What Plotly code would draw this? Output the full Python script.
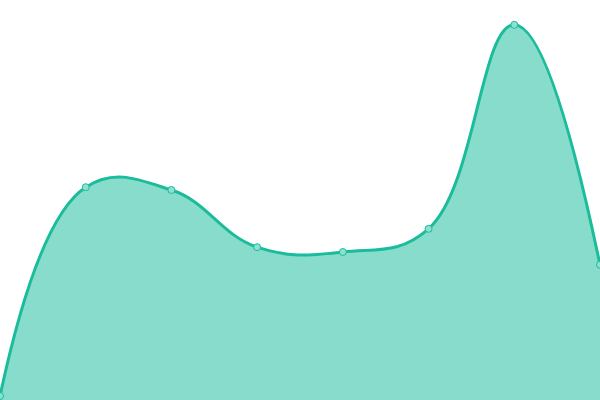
import plotly.graph_objects as go

# point index along x
x_points = [0, 1, 2, 3, 4, 5, 6, 7]
y_values = [1, 53.2, 52.5, 38.2, 37, 42.8, 93.8, 33.8]

line_color = "#1abc9c"
fill_color = "rgba(26,188,156,0.52)"

fig = go.Figure(
    go.Scatter(
        x=x_points,
        y=y_values,
        mode="lines+markers",
        line=dict(color=line_color, width=3, shape="spline", smoothing=1.2),
        fill="tozeroy",
        fillcolor=fill_color,
        marker=dict(size=7, color="#8ee0d1", line=dict(color=line_color, width=1)),
        hoverinfo="skip",
    )
)

fig.update_layout(
    width=600,
    height=400,
    margin=dict(t=0, l=0, r=0, b=0),
    paper_bgcolor="white",
    plot_bgcolor="white",
    showlegend=False,
    xaxis=dict(range=[0, 7], visible=False),
    yaxis=dict(range=[0, 100], visible=False),
)

# drop the default page margin so the chart sits flush in the window
fig.write_html(
    "out.html",
    config={"displayModeBar": False},
    post_script="document.body.style.margin='0';document.body.style.overflow='hidden';",
)
